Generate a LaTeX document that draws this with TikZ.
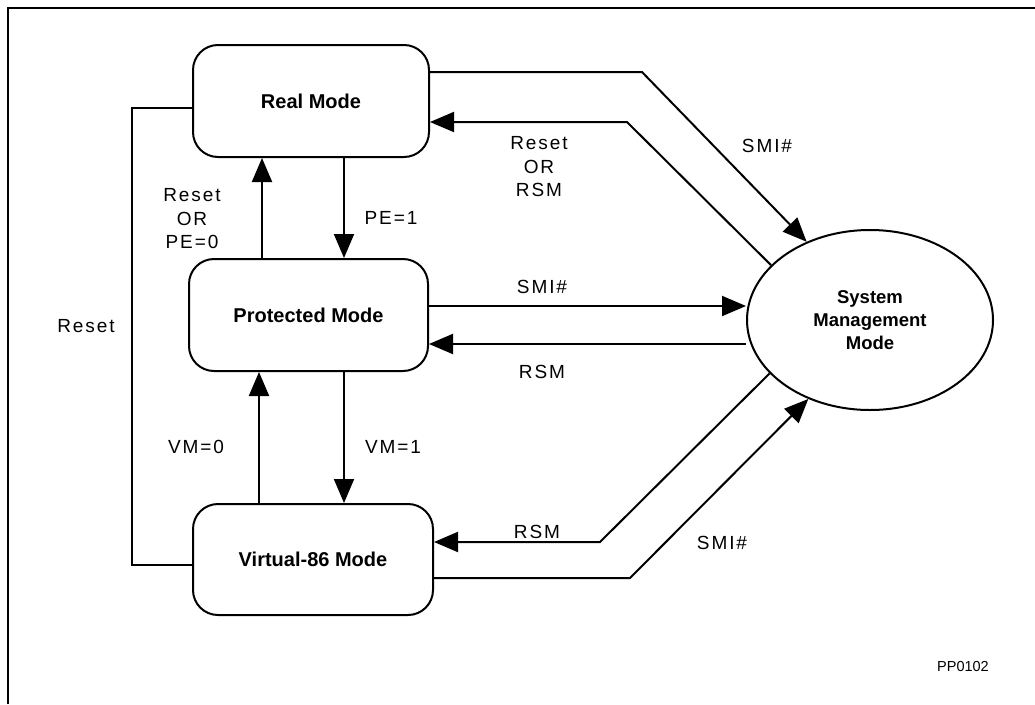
\documentclass[tikz,border=0pt]{standalone}
\usepackage{fontspec}
\setmainfont{Liberation Sans}
\newfontfamily\lblfont[LetterSpace=10]{Liberation Sans}
\usetikzlibrary{arrows.meta,shapes.geometric}
\tikzset{
  modebox/.style={draw, line width=2pt, rounded corners=25pt, inner sep=0pt,
    font=\fontsize{20}{24}\selectfont\bfseries},
  smmnode/.style={draw, line width=2pt, ellipse, inner sep=0pt,
    minimum width=246pt, minimum height=180pt, align=center,
    font=\fontsize{18.5}{23}\selectfont\bfseries},
  lbl/.style={align=center, inner sep=0pt, font=\fontsize{19}{23.5}\selectfont\lblfont},
  arr/.style={line width=2pt, -{Triangle[length=24pt,width=20pt]}},
  plain/.style={line width=2pt},
}
\begin{document}
\begin{tikzpicture}[x=1pt,y=-1pt]
\useasboundingbox (0,0) rectangle (1035,704);
\draw[line width=2.5pt] (8,704) -- (8,8) -- (1035,8);

\node[modebox, minimum width=236pt, minimum height=112pt] (real) at (311,101) {Real Mode};
\node[modebox, minimum width=239pt, minimum height=112pt] (prot) at (308.5,315) {Protected Mode};
\node[modebox, minimum width=240pt, minimum height=111pt] (virt) at (313,559.5) {Virtual-86 Mode};
\node[smmnode] (smm) at (870,320) {System\\Management\\Mode};

\coordinate (b1) at (642,72);
\coordinate (b2) at (627,122);
\coordinate (b3) at (600,542);
\coordinate (b4) at (630,578);
\coordinate (b5) at (132,108);
\coordinate (b6) at (132,565);

% Real <-> SMM
\draw[arr] ([yshift=29pt]real.east) -- (b1) -- (smm.129);
\draw[arr] (smm.151) -- (b2) -- ([yshift=-21pt]real.east);
% Protected <-> SMM
\draw[arr] ([yshift=9pt]prot.east) -- ([yshift=14pt]smm.west);
\draw[arr] ([yshift=-24pt]smm.west) -- ([yshift=-29pt]prot.east);
% Virtual <-> SMM
\draw[arr] (smm.208) -- (b3) -- ([yshift=17.5pt]virt.east);
\draw[arr] ([yshift=-18.5pt]virt.east) -- (b4) -- (smm.232);
% Real <-> Protected
\draw[arr] ([xshift=-46.5pt]prot.north) -- ([xshift=-49pt]real.south);
\draw[arr] ([xshift=33pt]real.south) -- ([xshift=35.5pt]prot.north);
% Protected <-> Virtual
\draw[arr] ([xshift=-54pt]virt.north) -- ([xshift=-49.5pt]prot.south);
\draw[arr] ([xshift=35.5pt]prot.south) -- ([xshift=31pt]virt.north);
% Reset loop
\draw[plain] ([yshift=-7pt]real.west) -- (b5) -- (b6) -- ([yshift=-5.5pt]virt.west);

% Labels
\node[lbl] (lreset) at (86,326) {Reset};
\node[lbl] (lrp) at (192,219) {Reset\\OR\\PE=0};
\node[lbl] (lpe) at (391,218) {PE=1};
\node[lbl] (lvm0) at (196,447) {VM=0};
\node[lbl] (lvm1) at (393,447) {VM=1};
\node[lbl] (lrr) at (539,167) {Reset\\OR\\RSM};
\node[lbl] (lsmi1) at (767,146) {SMI\#};
\node[lbl] (lsmi2) at (542,287) {SMI\#};
\node[lbl] (lrsm2) at (542,372) {RSM};
\node[lbl] (lrsm3) at (537,532) {RSM};
\node[lbl] (lsmi3) at (722,543) {SMI\#};
\node[font=\fontsize{14.5}{17}\selectfont, inner sep=0pt] (pp) at (963,666) {PP0102};
\end{tikzpicture}
\end{document}
